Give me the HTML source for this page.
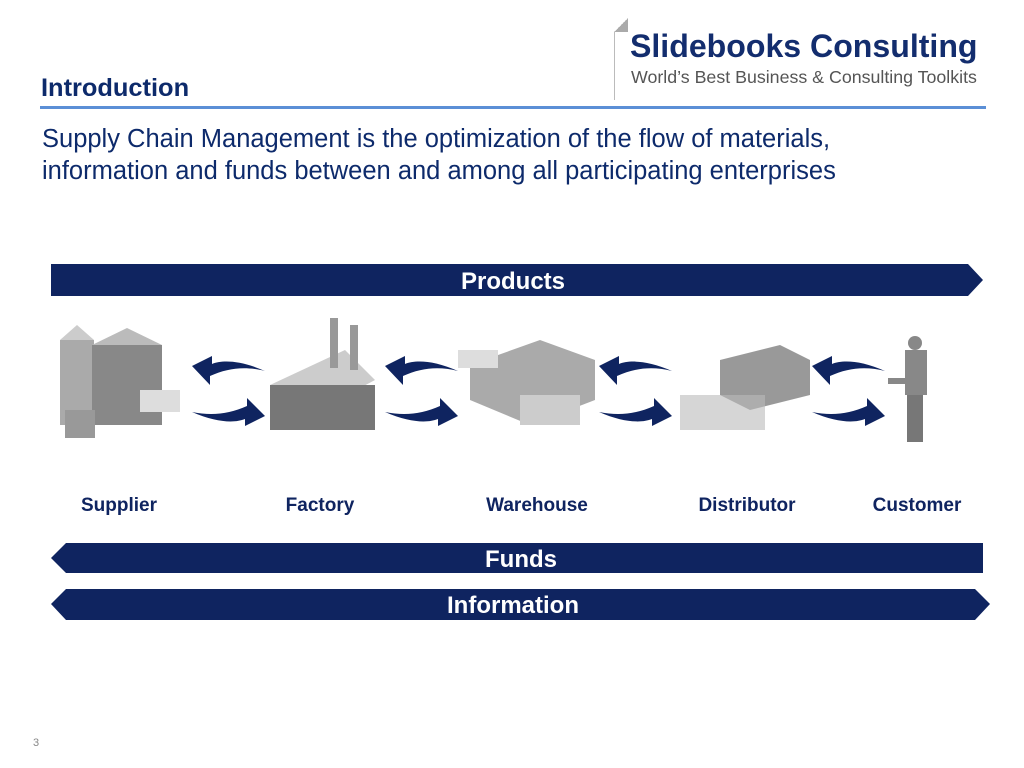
<!DOCTYPE html>
<html><head><meta charset="utf-8"><style>
body{margin:0;width:1024px;height:768px;background:#fff;overflow:hidden;font-family:"Liberation Sans",Arial,sans-serif;}
.a{position:absolute;}
</style></head><body>
<div class="a" style="left:41px;top:74px;font-size:25.4px;font-weight:bold;color:#0d2a6b;">Introduction</div>
<div class="a" style="left:40px;top:106px;width:946px;height:3px;background:#5b8fd6;"></div>
<div class="a" style="left:614px;top:18px;width:1px;height:82px;background:#bbb;"></div>
<div class="a" style="left:614px;top:18px;width:14px;height:14px;background:linear-gradient(135deg,#fff 50%,#aaa 50%);"></div>
<div class="a" style="left:630px;top:28px;font-size:32.1px;font-weight:bold;color:#132d6e;">Slidebooks Consulting</div>
<div class="a" style="left:631px;top:67px;font-size:17.8px;color:#555;">World’s Best Business &amp; Consulting Toolkits</div>
<div class="a" style="left:42px;top:123px;font-size:25.5px;color:#0d2a6b;line-height:32px;white-space:nowrap;">Supply Chain Management is the optimization of the flow of materials,<br>information and funds between and among all participating enterprises</div>
<svg class="a" style="left:0;top:0" width="1024" height="768">
<polygon points="51,264 968,264 983,280 968,296 51,296" fill="#0f2460"/>
<polygon points="66,543 983,543 983,573 66,573 51,558" fill="#0f2460"/>
<polygon points="66,589 975,589 990,604 975,620 66,620 51,604" fill="#0f2460"/>
<text x="513" y="289" fill="#fff" font-size="24" font-weight="bold" text-anchor="middle" font-family="Liberation Sans">Products</text>
<text x="521" y="567" fill="#fff" font-size="24" font-weight="bold" text-anchor="middle" font-family="Liberation Sans">Funds</text>
<text x="513" y="613" fill="#fff" font-size="24" font-weight="bold" text-anchor="middle" font-family="Liberation Sans">Information</text>
<g fill="#0f2460">
<g id="p"><path d="M265,371 C240,360 222,360 212,364 L212,356 L192,366 L210,385 L210,376 C228,368 245,366 265,371Z"/>
<path d="M192,412 C217,423 235,423 245,419 L245,426 L265,416 L247,398 L247,406 C229,414 212,416 192,412Z"/></g>
<use href="#p" x="193"/><use href="#p" x="407"/><use href="#p" x="620"/>
</g>
<g fill="#8a8a8a">
<rect x="60" y="340" width="34" height="85" fill="#aaa"/><polygon points="60,340 77,325 94,340" fill="#ccc"/>
<rect x="92" y="345" width="70" height="80" fill="#888"/><polygon points="92,345 127,328 162,345" fill="#bbb"/>
<rect x="140" y="390" width="40" height="22" fill="#ddd"/><rect x="65" y="410" width="30" height="28" fill="#999"/>
<polygon points="270,385 345,350 375,380 300,420" fill="#ccc"/><rect x="270" y="385" width="105" height="45" fill="#777"/>
<rect x="330" y="318" width="8" height="50" fill="#999"/><rect x="350" y="325" width="8" height="45" fill="#999"/>
<polygon points="470,365 540,340 595,360 595,400 530,425 470,400" fill="#aaa"/><rect x="458" y="350" width="40" height="18" fill="#ddd"/><rect x="520" y="395" width="60" height="30" fill="#ccc"/>
<polygon points="720,360 780,345 810,360 810,395 750,410 720,395" fill="#999"/><rect x="680" y="395" width="85" height="35" fill="#bbb" opacity=".6"/>
<rect x="905" y="350" width="22" height="45" fill="#888"/><circle cx="915" cy="343" r="7" fill="#888"/><rect x="907" y="395" width="16" height="47" fill="#777"/><rect x="888" y="378" width="20" height="6" fill="#888"/>
</g>
<g font-size="19" font-weight="bold" fill="#0f2460" font-family="Liberation Sans" text-anchor="middle">
<text x="119" y="511">Supplier</text><text x="320" y="511">Factory</text><text x="537" y="511">Warehouse</text><text x="747" y="511">Distributor</text><text x="917" y="511">Customer</text>
</g>
<text x="33" y="746" font-size="11" fill="#888" font-family="Liberation Sans">3</text>
</svg>
</body></html>
